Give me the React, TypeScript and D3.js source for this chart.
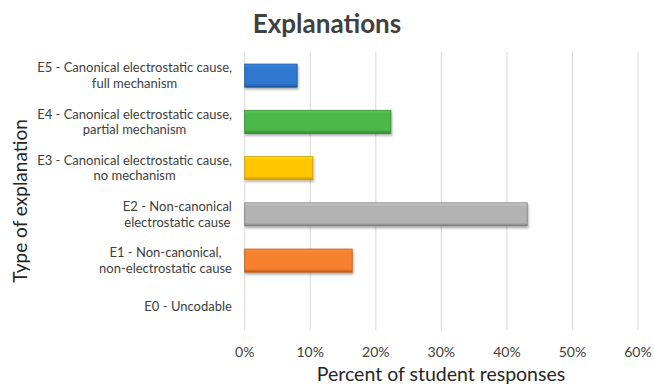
import React from "react";
import * as d3 from "d3";

const categories = [
  "E5 - Canonical electrostatic cause,|full mechanism",
  "E4 - Canonical electrostatic cause,|partial mechanism",
  "E3 - Canonical electrostatic cause,|no mechanism",
  "E2 - Non-canonical|electrostatic cause",
  "E1 - Non-canonical,|non-electrostatic cause",
  "E0 - Uncodable",
];
const values = [8.0, 22.3, 10.4, 43.1, 16.4, 0];
const colors = ["#2F78CF", "#4CB848", "#FFC600", "#B3B3B3", "#F7812E"];
const darkColors = ["#1D5597", "#2F8A2D", "#C99A00", "#7E7E7E", "#B85A17"];
const xTicks = [0, 10, 20, 30, 40, 50, 60];

const W = 654;
const H = 385;
const FONT = "Lato, 'Open Sans', sans-serif";

function LabelBlock({ lines, cy }: { lines: string[]; cy: number }) {
  const ref = React.useRef<SVGTextElement>(null);
  const [w, setW] = React.useState(0);
  React.useLayoutEffect(() => {
    if (ref.current) setW(ref.current.getBBox().width);
  }, []);
  const lh = 15.5;
  const start = cy - ((lines.length - 1) * lh) / 2;
  const right = 232;
  const center = right - w / 2;
  return (
    <text
      ref={ref}
      textAnchor={w ? "middle" : "end"}
      fontFamily={FONT}
      fontSize={13}
      fill="#404040"
    >
      {lines.map((l, j) => (
        <tspan key={j} x={w ? center : right} y={start + j * lh + 4.5}>
          {l}
        </tspan>
      ))}
    </text>
  );
}

export default function App() {
  const x = d3.scaleLinear().domain([0, 60]).range([244.7, 638]);
  const y = d3
    .scaleBand<string>()
    .domain(categories)
    .range([52.5, 330])
    .paddingInner(0.5)
    .paddingOuter(0.25);
  const bh = y.bandwidth();

  return (
    <svg
      width={W}
      height={H}
      style={{ position: "absolute", left: 0, top: 0, background: "#fff" }}
    >
      <defs>
        {colors.map((c, i) => (
          <linearGradient key={i} id={`g${i}`} x1="0" y1="0" x2="0" y2="1">
            <stop offset="0" stopColor={d3.color(c)!.brighter(0.35).toString()} />
            <stop offset="0.15" stopColor={c} />
            <stop offset="0.85" stopColor={c} />
            <stop offset="1" stopColor={darkColors[i]} />
          </linearGradient>
        ))}
        <filter id="sh" x="-5%" y="-20%" width="115%" height="160%">
          <feDropShadow dx="1" dy="2" stdDeviation="1.2" floodColor="#000" floodOpacity="0.3" />
        </filter>
      </defs>
      <text
        x={327}
        y={33}
        textAnchor="middle"
        fontFamily={FONT}
        fontWeight="bold"
        fontSize={26}
        fill="#404040"
      >
        Explanations
      </text>
      {xTicks.map((t) => (
        <line
          key={t}
          x1={x(t)}
          x2={x(t)}
          y1={52}
          y2={330}
          stroke="#D9D9D9"
          strokeWidth={1}
        />
      ))}
      {categories.map((c, i) => {
        const v = values[i];
        const y0 = y(c)!;
        if (!(v > 0)) return null;
        return (
          <rect
            key={c}
            x={x(0)}
            y={y0}
            width={x(v) - x(0)}
            height={bh}
            fill={`url(#g${i})`}
            stroke={darkColors[i]}
            strokeWidth={0.8}
            filter="url(#sh)"
          />
        );
      })}
      {categories.map((c) => (
        <LabelBlock key={c} lines={c.split("|")} cy={y(c)! + bh / 2} />
      ))}
      {xTicks.map((t) => (
        <text
          key={t}
          x={x(t)}
          y={357}
          textAnchor="middle"
          fontFamily={FONT}
          fontSize={14}
          fill="#404040"
        >
          {t}%
        </text>
      ))}
      <text
        x={441}
        y={381}
        textAnchor="middle"
        fontFamily={FONT}
        fontSize={19.5}
        fill="#262626"
      >
        Percent of student responses
      </text>
      <text
        transform={`translate(27,201) rotate(-90)`}
        textAnchor="middle"
        fontFamily={FONT}
        fontSize={19}
        fill="#262626"
      >
        Type of explanation
      </text>
    </svg>
  );
}
